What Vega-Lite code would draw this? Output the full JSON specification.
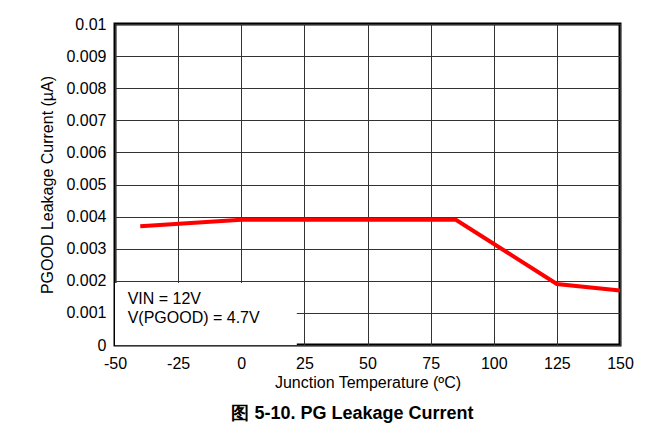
{
  "$schema": "https://vega.github.io/schema/vega-lite/v6.json",
  "width": 505,
  "height": 321,
  "autosize": {"type": "none"},
  "padding": {"left": 115, "top": 24, "right": 44, "bottom": 90},
  "background": "white",
  "config": {
    "view": {"stroke": "black", "strokeWidth": 3},
    "axis": {
      "domain": false,
      "grid": true,
      "gridColor": "#333333",
      "gridWidth": 1,
      "gridOpacity": 1,
      "ticks": false,
      "labelFont": "Liberation Sans",
      "titleFont": "Liberation Sans",
      "labelFontSize": 16,
      "labelColor": "black",
      "labelOverlap": false,
      "labelFlush": false,
      "labelBound": false,
      "titleFontSize": 16,
      "titleFontWeight": "normal",
      "titleColor": "black"
    }
  },
  "title": {
    "text": "图 5-10. PG Leakage Current",
    "orient": "bottom",
    "anchor": "middle",
    "fontSize": 18,
    "fontWeight": "bold",
    "font": "Liberation Sans",
    "offset": 15,
    "dx": -15
  },
  "datasets": {
    "curve": [
      {"t": -40, "i": 0.0037},
      {"t": 0, "i": 0.0039},
      {"t": 85, "i": 0.0039},
      {"t": 125, "i": 0.0019},
      {"t": 150, "i": 0.0017}
    ],
    "box": [{"x1": -50, "x2": 22, "y1": 0, "y2": 0.00193}],
    "notes": [
      {"x": -45, "y": 0.00142, "label": "VIN = 12V"},
      {"x": -45, "y": 0.00085, "label": "V(PGOOD) = 4.7V"}
    ]
  },
  "layer": [
    {
      "data": {"name": "curve"},
      "mark": {"type": "line", "color": "#ff0000", "strokeWidth": 4},
      "encoding": {
        "x": {
          "field": "t", "type": "quantitative",
          "scale": {"domain": [-50, 150], "nice": false},
          "axis": {"values": [-50, -25, 0, 25, 50, 75, 100, 125, 150], "tickCount": 20, "labelExpr": "replace(datum.label, '−', '-')", "title": "Junction Temperature (ºC)", "labelPadding": 10, "titlePadding": 3}
        },
        "y": {
          "field": "i", "type": "quantitative",
          "scale": {"domain": [0, 0.01], "nice": false},
          "axis": {"values": [0, 0.001, 0.002, 0.003, 0.004, 0.005, 0.006, 0.007, 0.008, 0.009, 0.01], "tickCount": 20, "format": "~g", "title": "PGOOD Leakage Current (µA)", "labelPadding": 9, "titlePadding": 10}
        }
      }
    },
    {
      "data": {"name": "box"},
      "mark": {"type": "rect", "fill": "white"},
      "encoding": {
        "x": {"field": "x1", "type": "quantitative"},
        "x2": {"field": "x2"},
        "y": {"field": "y1", "type": "quantitative"},
        "y2": {"field": "y2"}
      }
    },
    {
      "data": {"name": "notes"},
      "mark": {"type": "text", "align": "left", "baseline": "middle", "fontSize": 16, "font": "Liberation Sans", "color": "black"},
      "encoding": {
        "x": {"field": "x", "type": "quantitative"},
        "y": {"field": "y", "type": "quantitative"},
        "text": {"field": "label"}
      }
    }
  ]
}
